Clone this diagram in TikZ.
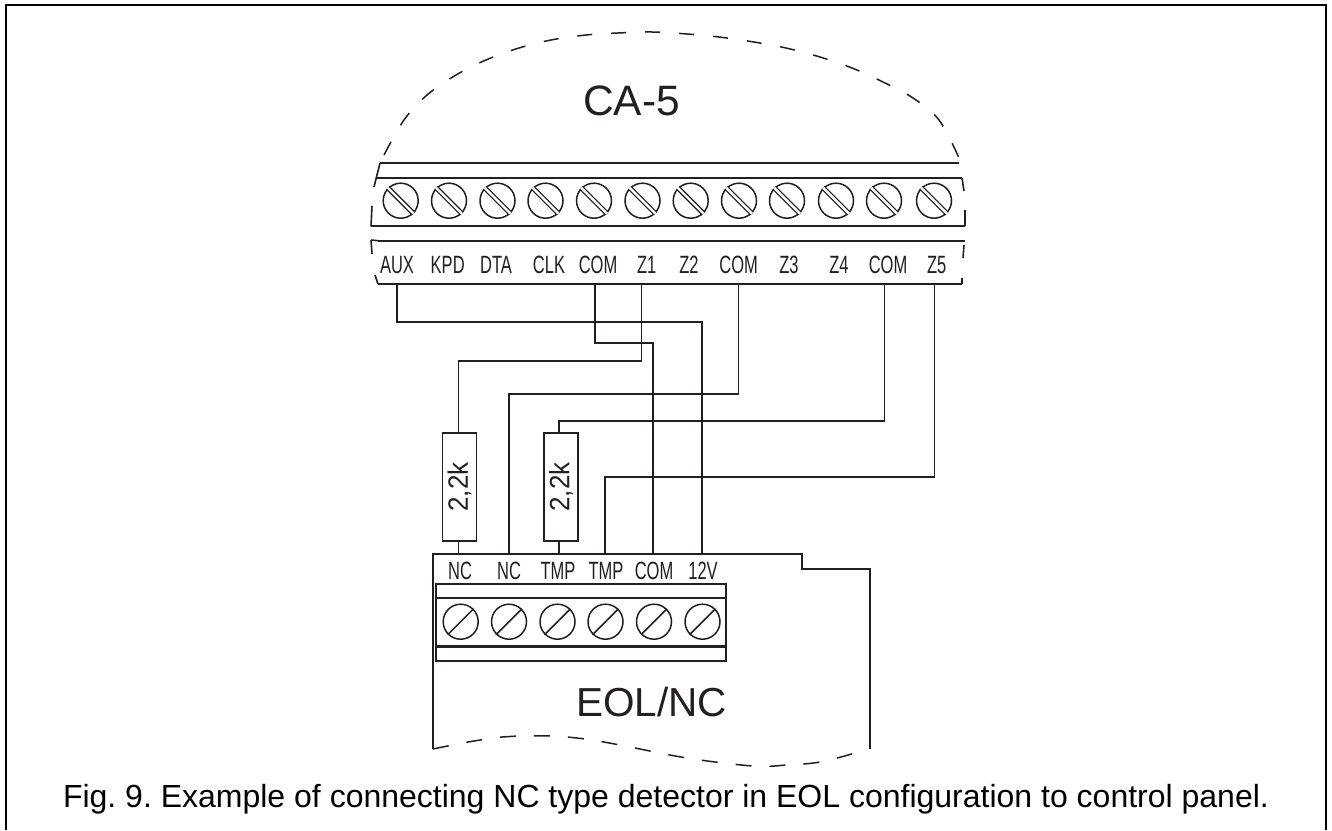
\documentclass[tikz,border=0pt]{standalone}
\usepackage{fontspec}
\setmainfont{Liberation Sans}
\newfontfamily\narrowfont[FakeStretch=0.66]{Liberation Sans}
\newfontfamily\valfont[FakeStretch=0.93]{Liberation Sans}
\definecolor{ink}{HTML}{231F20}
\tikzset{
  wire/.style={draw=ink,line width=1.4pt,line join=miter},
  rail/.style={draw=ink,line width=1.7pt},
  heavy/.style={draw=ink,line width=2.2pt},
  dashrim/.style={draw=ink,line width=1.5pt,dash pattern=on 15pt off 19pt},
  rimbit/.style={draw=ink,line width=1.6pt},
  screw/.style={circle,draw=ink,line width=1.5pt,minimum size=35pt,inner sep=0pt},
  slot/.style={draw=ink,line width=1.3pt,double=white,double distance=2.4pt},
  cut/.style={draw=ink,line width=1.5pt},
  termlabel/.style={inner sep=0pt,text=ink,anchor=base,font=\narrowfont\fontsize{25}{25}\selectfont},
  bigtext/.style={inner sep=0pt,text=ink,anchor=base,font=\fontsize{40.5}{41}\selectfont},
  resistor/.style={rectangle,draw=ink,line width=1.7pt,minimum width=34pt,minimum height=108pt,inner sep=0pt,text=ink},
  frameline/.style={draw=black,line width=2pt}
}
\newcommand{\rotval}{\rotatebox{90}{\valfont\fontsize{28}{28}\selectfont 2,2k}}
\begin{document}
\begin{tikzpicture}[x=1pt,y=-1pt]
\useasboundingbox (0,0) rectangle (1332,830);
\fill[white] (0,0) rectangle (1332,830);
% outer frame (open at the bottom edge)
\draw[frameline] (5.5,830) -- (5.5,5) -- (1326,5) -- (1326,830);
% CA-5 rim
\draw[dashrim] plot[smooth,tension=0.6] coordinates {(384,155)(404,120)(427,95)(456,75)(486,60)(519,48)(551,40)(586,35)(618,33)(652,32)(687,34)(719,37)(754,42)(786,48)(820,57)(852,68)(883,82)(913,98)(939,120)(959,158)};
% CA-5 terminal strip
\draw[rail] (380,163) -- (959,163);
\draw[rail] (377,178) -- (962,178);
\draw[heavy] (371,226) -- (965,226);
\draw[rail] (378,240.7) -- (965,240.7);
\draw[heavy] (378,284) -- (962,284);
\draw[rimbit] (380,163) -- (374,187);
\draw[rimbit] (372,206) -- (371,226);
\draw[rimbit] (371,240) -- (378,240.7) (371,240) -- (372,254);
\draw[rimbit] (375,275) -- (378,284);
\draw[rimbit] (962,178) -- (964,191);
\draw[rimbit] (965,210) -- (965,226);
\draw[rimbit] (964,245) -- (963,258);
\draw[rimbit] (962,278) -- (962,284);
\foreach \n/\x in {1/400.7,2/449,3/497.5,4/545.5,5/594,6/642.5,7/690.7,8/739,9/787,10/836,11/884,12/934}{
  \node[screw] (ts\n) at (\x,200.7) {};
  \draw[slot] (ts\n.135) -- (ts\n.-45);
}
\node[termlabel] (lAUX) at (397,273) {AUX};
\node[termlabel] (lKPD) at (447.7,273) {KPD};
\node[termlabel] (lDTA) at (496,273) {DTA};
\node[termlabel] (lCLK) at (549,273) {CLK};
\node[termlabel] (lCOMa) at (598,273) {COM};
\node[termlabel] (lZa) at (646.7,273) {Z1};
\node[termlabel] (lZb) at (689,273) {Z2};
\node[termlabel] (lCOMb) at (738.7,273) {COM};
\node[termlabel] (lZc) at (789,273) {Z3};
\node[termlabel] (lZd) at (839,273) {Z4};
\node[termlabel] (lCOMc) at (888,273) {COM};
\node[termlabel] (lZe) at (936.7,273) {Z5};
\node[bigtext,font=\fontsize{42.5}{43}\selectfont] (ca) at (631.5,115) {CA-5};
% wire ends at the CA-5 strip
\coordinate (pAUX) at (397,284);
\coordinate (pCOMa) at (595,284);
\coordinate (pZa) at (641.7,284);
\coordinate (pCOMb) at (738.7,284);
\coordinate (pCOMc) at (884.7,284);
\coordinate (pZe) at (934.5,284);
% wire ends at the EOL/NC box
\coordinate (qNCa) at (458.7,554);
\coordinate (qNCb) at (509,554);
\coordinate (qTa) at (559,554);
\coordinate (qTb) at (605,554);
\coordinate (qCOM) at (653,554);
\coordinate (qV) at (702,554);
% resistors
\node[resistor] (ra) at (459.5,487) {\rotval};
\node[resistor] (rb) at (561,487) {\rotval};
% wires
\draw[wire] (pAUX) -- (pAUX |- 0,322) -| (qV);
\draw[wire] (pCOMa) -- (pCOMa |- 0,343) -| (qCOM);
\draw[wire] (pZa) -- (pZa |- 0,361) -| (qNCa |- ra.north);
\draw[wire] (pCOMb) -- (pCOMb |- 0,394) -| (qNCb);
\draw[wire] (pCOMc) -- (pCOMc |- 0,421) -| (qTa |- rb.north);
\draw[wire] (pZe) -- (pZe |- 0,477) -| (qTb);
\draw[wire] (qNCa |- ra.south) -- (qNCa);
\draw[wire] (qTa |- rb.south) -- (qTa);
% EOL/NC box
\draw[heavy] (433,749) -- (433,554) -- (802,554) -- (802,569) -- (870,569) -- (870,749);
\draw[dashrim,dash pattern=on 16pt off 18pt] plot[smooth,tension=0.6] coordinates {(433,749)(468,742)(502,737)(518,736)(552,736)(585,739)(620,745)(687,758)(753,766)(787,765)(820,762)(855,753)};
\draw[heavy] (436,584) rectangle (726,661);
\draw[heavy] (436,598) -- (726,598);
\draw[heavy] (436,646.5) -- (726,646.5);
\foreach \n/\x in {1/460.7,2/509,3/557.5,4/605.5,5/654,6/702.5}{
  \node[screw] (bs\n) at (\x,621.7) {};
  \draw[cut] (bs\n.-135) -- (bs\n.45);
}
\node[termlabel] (bNCa) at (460,579) {NC};
\node[termlabel] (bNCb) at (509,579) {NC};
\node[termlabel] (bTa) at (558,579) {TMP};
\node[termlabel] (bTb) at (606,579) {TMP};
\node[termlabel] (bCOM) at (654,579) {COM};
\node[termlabel] (bV) at (703,579) {12V};
\node[bigtext] (eol) at (651.5,716) {EOL/NC};
% caption
\node[inner sep=0pt,anchor=base,text=black,font=\frenchspacing\fontsize{32}{32}\selectfont] (cap) at (666,807) {Fig. 9. Example of connecting NC type detector in EOL configuration to control panel.};
\end{tikzpicture}
\end{document}
